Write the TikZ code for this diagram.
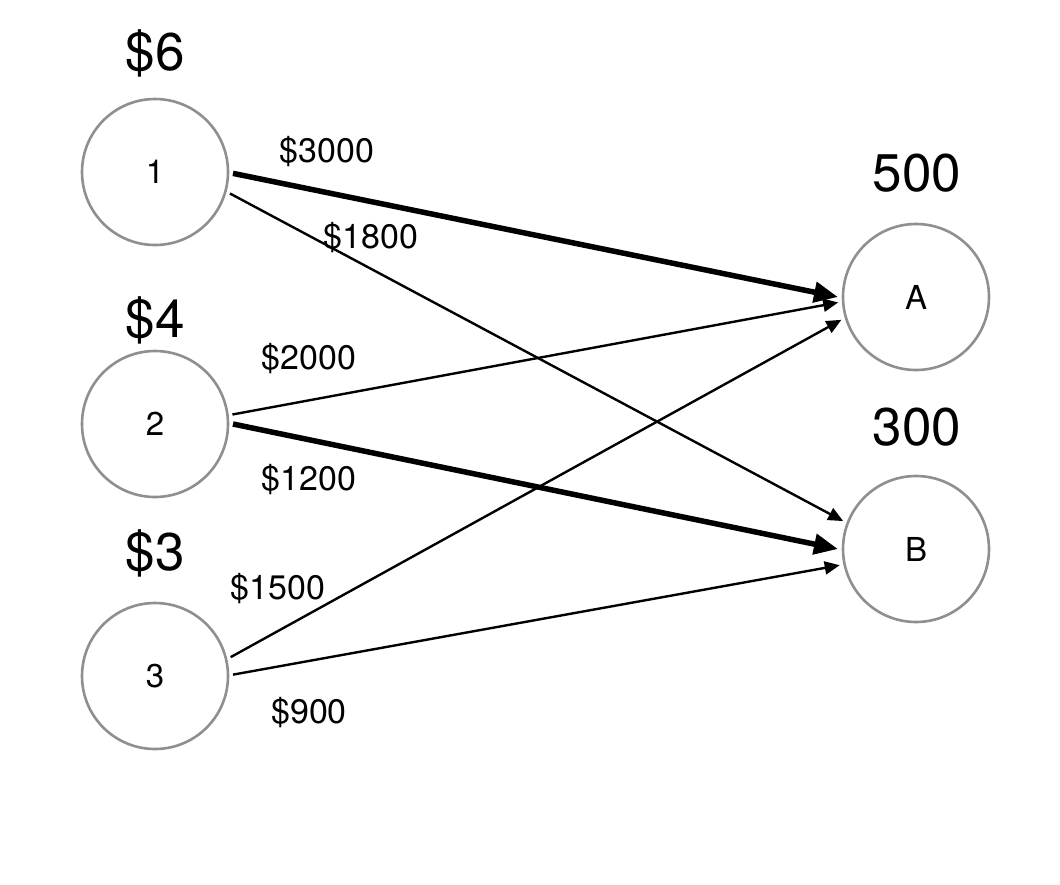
\documentclass[tikz,border=0pt]{standalone}
\usepackage{fontspec}
\setmainfont{TeX Gyre Heros}
\usetikzlibrary{arrows.meta}
\definecolor{ringgray}{HTML}{8E8E93}
\tikzset{
  station/.style={circle, draw=ringgray, line width=2.6pt, minimum size=146pt, inner sep=0pt, outer sep=5pt, font=\fontsize{33}{38}\selectfont},
  bigtag/.style={inner sep=0pt, font=\fontsize{53}{60}\selectfont},
  costtag/.style={inner sep=0pt, font=\fontsize{34}{40}\selectfont},
  thinflow/.style={line width=2.4pt, -{Triangle[length=15pt,width=13pt]}},
  thickflow/.style={line width=5.5pt, -{Triangle[length=24pt,width=20pt]}}
}
\begin{document}
\begin{tikzpicture}[x=1pt,y=-1pt]
\useasboundingbox (0,0) rectangle (1060,884);
\node[station] (n1) at (155,172) {1};
\node[station] (n2) at (155,424) {2};
\node[station] (n3) at (155,676) {3};
\node[station] (nA) at (916,297) {A};
\node[station] (nB) at (916,549) {B};
\node[bigtag] (p1) at (155,53) {\$6};
\node[bigtag] (p2) at (155,320) {\$4};
\node[bigtag] (p3) at (155,553) {\$3};
\node[bigtag] (dA) at (917,173) {500};
\node[bigtag] (dB) at (917,427) {300};
\draw[thickflow] (n1.-1) -- (nA.180);
\draw[thinflow] (n1.-16) -- (nB.159);
\draw[thinflow] (n2.7) -- (nA.184);
\draw[thickflow] (n2.0) -- (nB.180);
\draw[thinflow] (n3.14) -- (nA.197);
\draw[thinflow] (n3.1) -- (nB.192);
\node[costtag] (c1A) at (327,152) {\$3000};
\node[costtag] (c1B) at (371,238) {\$1800};
\node[costtag] (c2A) at (309,359) {\$2000};
\node[costtag] (c2B) at (309,480) {\$1200};
\node[costtag] (c3A) at (278,589) {\$1500};
\node[costtag] (c3B) at (309,713) {\$900};
\end{tikzpicture}
\end{document}
